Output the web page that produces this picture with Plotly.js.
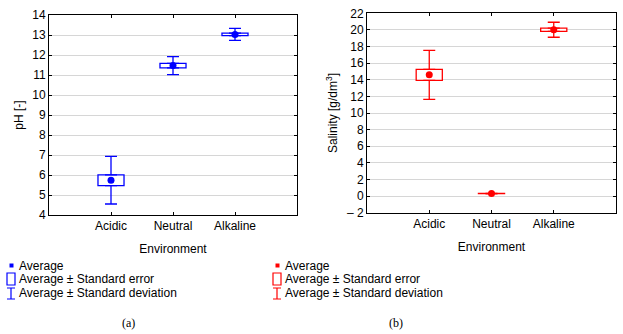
<!DOCTYPE html>
<html>
<head>
<meta charset="utf-8">
<script src="https://cdn.plot.ly/plotly-3.0.1.min.js"></script>
<style>html,body{margin:0;padding:0;background:#fff;}#chart{width:623px;height:334px;}</style>
</head>
<body>
<div id="chart"></div>
<script>
// ---- data ----
var categories = ["Acidic", "Neutral", "Alkaline"];
var phMean = [5.74, 11.47, 13.03];
var phSE = [0.27, 0.11, 0.06];
var phSD = [1.19, 0.45, 0.30];
var salMean = [14.59, 0.30, 20.02];
var salSE = [0.66, 0.01, 0.20];
var salSD = [2.95, 0.015, 0.90];
var phTicks = [4, 5, 6, 7, 8, 9, 10, 11, 12, 13, 14];
var salTickVals = [-2, 0, 2, 4, 6, 8, 10, 12, 14, 16, 18, 20, 22];
var salTickText = ["\u2013 2", "0", "2", "4", "6", "8", "10", "12", "14", "16", "18", "20", "22"];
var legendLabels = ["Average", "Average \u00b1 Standard error", "Average \u00b1 Standard deviation"];

var W = 623, H = 334;
var FONT = "Liberation Sans, Arial, sans-serif";
var BLUE = "#0000ff", RED = "#ff0000";
var LW = 1.3;

function panelTraces(mean, se, sd, color, xa, ya) {
  var up = mean.map(function (m, i) { return m + se[i]; });
  var lo = mean.map(function (m, i) { return m - se[i]; });
  var whisk = sd.map(function (s, i) { return Math.max(s - se[i], 0); });
  var zeros = mean.map(function () { return 0; });
  var invisible = {size: 2, color: "rgba(0,0,0,0)"};
  return [
    {type: "bar", x: categories, y: se.map(function (s) { return 2 * s; }), base: lo,
     width: 0.42, marker: {color: "#ffffff", line: {color: color, width: LW}},
     xaxis: xa, yaxis: ya, showlegend: false, hoverinfo: "skip"},
    {type: "scatter", mode: "markers", x: categories, y: up, marker: invisible,
     error_y: {type: "data", symmetric: false, array: whisk, arrayminus: zeros, color: color, thickness: LW, width: 6},
     xaxis: xa, yaxis: ya, showlegend: false, hoverinfo: "skip"},
    {type: "scatter", mode: "markers", x: categories, y: lo, marker: invisible,
     error_y: {type: "data", symmetric: false, array: zeros, arrayminus: whisk, color: color, thickness: LW, width: 6},
     xaxis: xa, yaxis: ya, showlegend: false, hoverinfo: "skip"},
    {type: "scatter", mode: "markers", x: categories, y: mean,
     marker: {symbol: "circle", size: 7, color: color},
     xaxis: xa, yaxis: ya, showlegend: false}
  ];
}

var data = panelTraces(phMean, phSE, phSD, BLUE, "x", "y")
  .concat(panelTraces(salMean, salSE, salSD, RED, "x2", "y2"));

function px(x) { return x / W; }
function py(y) { return 1 - y / H; }

function xAxis(domain, anchor) {
  return {domain: domain, anchor: anchor, type: "category", range: [-1, 3],
    showgrid: false, zeroline: false, showline: true, linecolor: "#000", linewidth: 1, mirror: "ticks",
    ticks: "inside", ticklen: 3, tickcolor: "#000",
    tickfont: {family: FONT, size: 12, color: "#000"},
    title: {text: "Environment", font: {family: FONT, size: 12, color: "#000"}, standoff: 12},
    automargin: true, fixedrange: true};
}
function yAxis(domain, anchor, range, tickvals, ticktext, title) {
  return {domain: domain, anchor: anchor, range: range, tickmode: "array", tickvals: tickvals, ticktext: ticktext,
    showgrid: true, gridcolor: "#d6d6d6", gridwidth: 1, zeroline: false,
    showline: true, linecolor: "#000", linewidth: 1, mirror: "ticks",
    ticks: "inside", ticklen: 3, tickcolor: "#000",
    tickfont: {family: FONT, size: 12, color: "#000"},
    title: {text: title, font: {family: FONT, size: 12, color: "#000"}, standoff: 6},
    automargin: false, fixedrange: true};
}

var shapes = [], annotations = [];
function legend(x0, color) {
  shapes.push({type: "rect", xref: "paper", yref: "paper", x0: px(x0 + 2.5), x1: px(x0 + 6.5), y0: py(267.5), y1: py(263.5),
    fillcolor: color, line: {width: 0}});
  shapes.push({type: "rect", xref: "paper", yref: "paper", x0: px(x0), x1: px(x0 + 8), y0: py(285), y1: py(273),
    fillcolor: "rgba(0,0,0,0)", line: {color: color, width: 1.2}});
  shapes.push({type: "path", xref: "paper", yref: "paper",
    path: "M" + px(x0) + "," + py(288) + " L" + px(x0 + 8) + "," + py(288) +
          " M" + px(x0 + 4) + "," + py(288) + " L" + px(x0 + 4) + "," + py(299) +
          " M" + px(x0) + "," + py(299) + " L" + px(x0 + 8) + "," + py(299),
    line: {color: color, width: 1.2}});
  var rows = [265.5, 279, 293];
  for (var i = 0; i < 3; i++) {
    annotations.push({xref: "paper", yref: "paper", x: px(x0 + 10), y: py(rows[i]), xanchor: "left", yanchor: "middle",
      text: legendLabels[i], showarrow: false, font: {family: FONT, size: 12, color: "#000"}});
  }
}
legend(7, BLUE);
legend(273, RED);
annotations.push({xref: "paper", yref: "paper", x: px(128), y: py(323), xanchor: "center", yanchor: "middle",
  text: "(a)", showarrow: false, font: {family: "Liberation Serif, Times New Roman, serif", size: 12, color: "#000"}});
annotations.push({xref: "paper", yref: "paper", x: px(396), y: py(323), xanchor: "center", yanchor: "middle",
  text: "(b)", showarrow: false, font: {family: "Liberation Serif, Times New Roman, serif", size: 12, color: "#000"}});

var layout = {
  width: W, height: H, margin: {l: 0, r: 0, t: 0, b: 0},
  paper_bgcolor: "#ffffff", plot_bgcolor: "#ffffff",
  showlegend: false, barmode: "overlay",
  xaxis: xAxis([px(49), px(297)], "y"),
  yaxis: yAxis([py(215), py(15)], "x", [4, 14], phTicks, phTicks.map(String), "pH [-]"),
  xaxis2: xAxis([px(367), px(616)], "y2"),
  yaxis2: yAxis([py(212.7), py(13.3)], "x2", [-2, 22], salTickVals, salTickText, "Salinity [g/dm<sup>3</sup>]"),
  shapes: shapes, annotations: annotations
};

Plotly.newPlot("chart", data, layout, {displayModeBar: false, staticPlot: true});
</script>
</body>
</html>
